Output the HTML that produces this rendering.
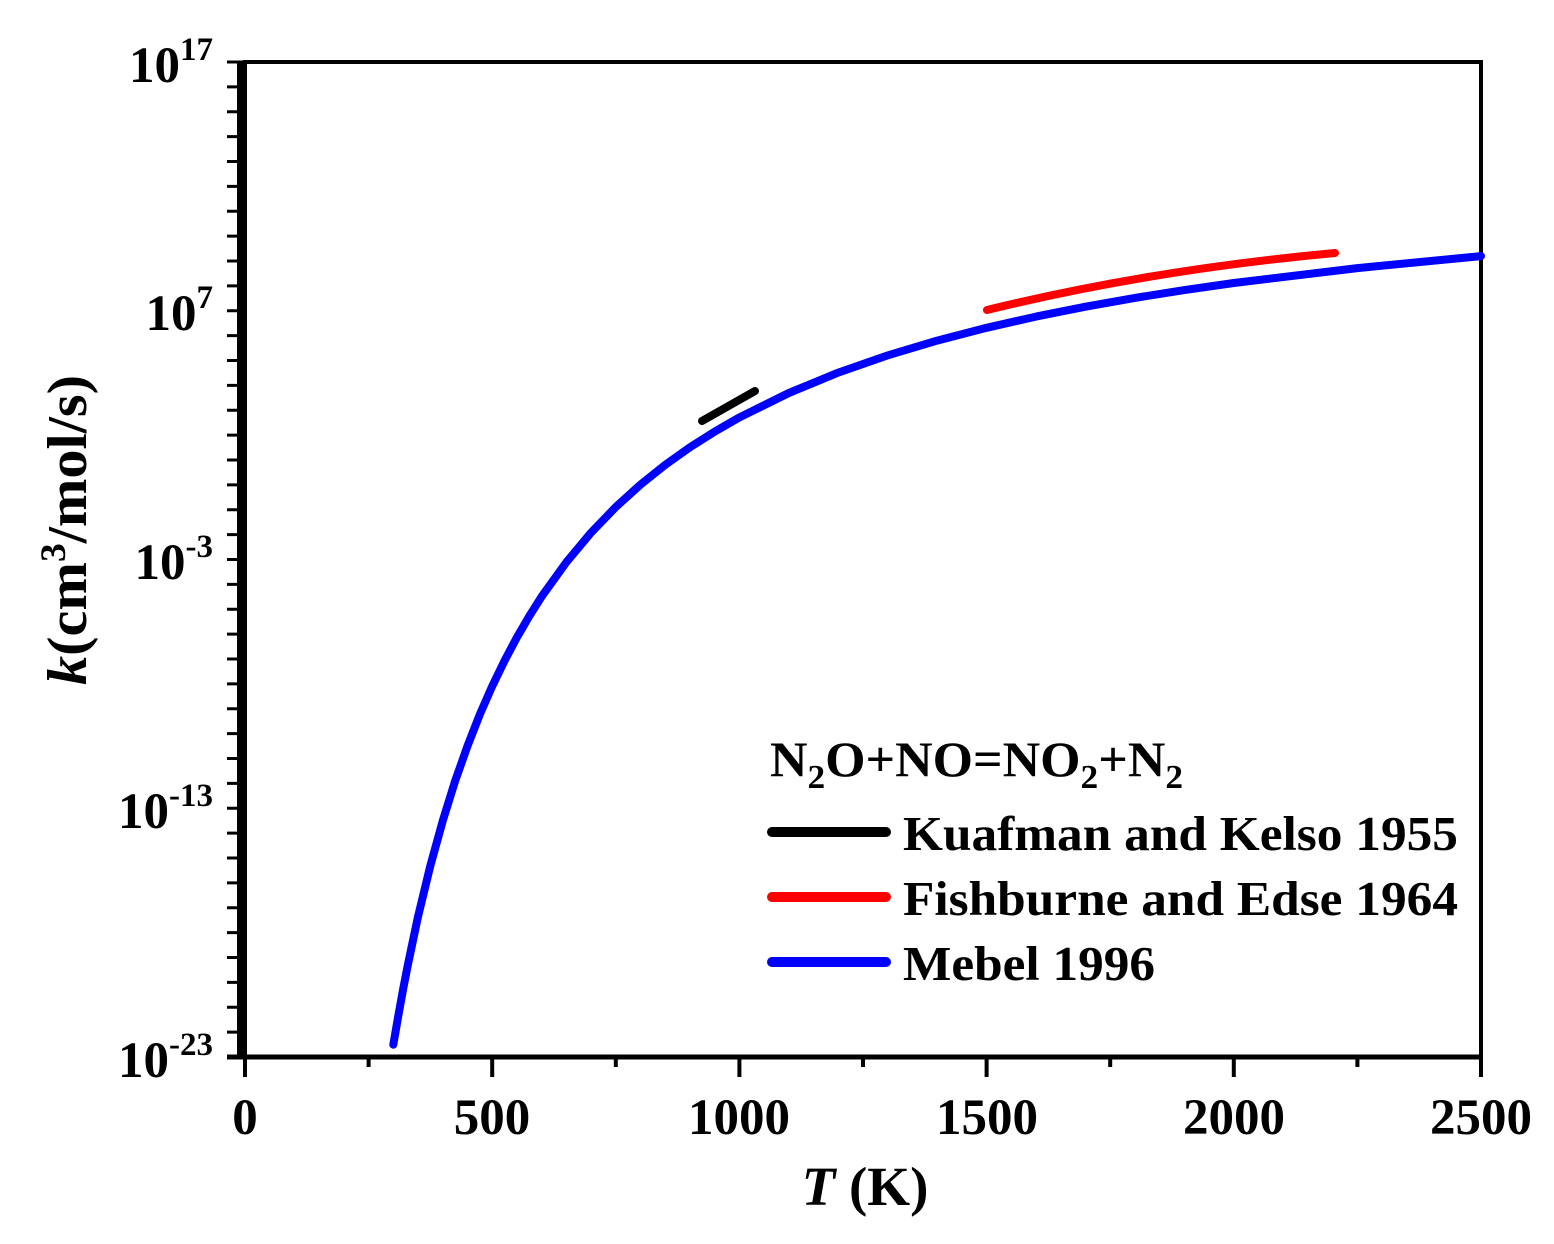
<!DOCTYPE html>
<html><head><meta charset="utf-8"><style>
html,body{margin:0;padding:0;background:#fff;}
svg{display:block;}
text{font-family:"Liberation Serif",serif;font-weight:bold;fill:#000;}
</style></head><body>
<svg width="1554" height="1244" viewBox="0 0 1554 1244" xmlns="http://www.w3.org/2000/svg">
<rect x="237" y="62" width="8" height="995" fill="#000"/>
<g stroke="#000" stroke-width="3">
<line x1="227" y1="62" x2="245" y2="62"/>
<line x1="227" y1="86.9" x2="245" y2="86.9"/><line x1="227" y1="111.8" x2="245" y2="111.8"/><line x1="227" y1="136.6" x2="245" y2="136.6"/><line x1="227" y1="161.5" x2="245" y2="161.5"/><line x1="227" y1="186.4" x2="245" y2="186.4"/><line x1="227" y1="211.3" x2="245" y2="211.3"/><line x1="227" y1="236.1" x2="245" y2="236.1"/><line x1="227" y1="261" x2="245" y2="261"/><line x1="227" y1="285.9" x2="245" y2="285.9"/><line x1="227" y1="310.8" x2="245" y2="310.8"/>
<line x1="227" y1="335.6" x2="245" y2="335.6"/><line x1="227" y1="360.5" x2="245" y2="360.5"/><line x1="227" y1="385.4" x2="245" y2="385.4"/><line x1="227" y1="410.3" x2="245" y2="410.3"/><line x1="227" y1="435.1" x2="245" y2="435.1"/><line x1="227" y1="460" x2="245" y2="460"/><line x1="227" y1="484.9" x2="245" y2="484.9"/><line x1="227" y1="509.8" x2="245" y2="509.8"/><line x1="227" y1="534.6" x2="245" y2="534.6"/><line x1="227" y1="559.5" x2="245" y2="559.5"/>
<line x1="227" y1="584.4" x2="245" y2="584.4"/><line x1="227" y1="609.3" x2="245" y2="609.3"/><line x1="227" y1="634.1" x2="245" y2="634.1"/><line x1="227" y1="659" x2="245" y2="659"/><line x1="227" y1="683.9" x2="245" y2="683.9"/><line x1="227" y1="708.8" x2="245" y2="708.8"/><line x1="227" y1="733.6" x2="245" y2="733.6"/><line x1="227" y1="758.5" x2="245" y2="758.5"/><line x1="227" y1="783.4" x2="245" y2="783.4"/><line x1="227" y1="808.3" x2="245" y2="808.3"/>
<line x1="227" y1="833.1" x2="245" y2="833.1"/><line x1="227" y1="858" x2="245" y2="858"/><line x1="227" y1="882.9" x2="245" y2="882.9"/><line x1="227" y1="907.8" x2="245" y2="907.8"/><line x1="227" y1="932.6" x2="245" y2="932.6"/><line x1="227" y1="957.5" x2="245" y2="957.5"/><line x1="227" y1="982.4" x2="245" y2="982.4"/><line x1="227" y1="1007.3" x2="245" y2="1007.3"/><line x1="227" y1="1032.1" x2="245" y2="1032.1"/>
</g>
<rect x="245" y="62" width="1236" height="995" fill="none" stroke="#000" stroke-width="4"/>
<line x1="227" y1="1057" x2="1483" y2="1057" stroke="#000" stroke-width="5"/>
<g stroke="#000" stroke-width="4">
<line x1="245" y1="1057" x2="245" y2="1077"/><line x1="492.2" y1="1057" x2="492.2" y2="1077"/><line x1="739.4" y1="1057" x2="739.4" y2="1077"/><line x1="986.6" y1="1057" x2="986.6" y2="1077"/><line x1="1233.8" y1="1057" x2="1233.8" y2="1077"/><line x1="1481" y1="1057" x2="1481" y2="1077"/>
<line x1="368.6" y1="1057" x2="368.6" y2="1067"/><line x1="615.8" y1="1057" x2="615.8" y2="1067"/><line x1="863" y1="1057" x2="863" y2="1067"/><line x1="1110.2" y1="1057" x2="1110.2" y2="1067"/><line x1="1357.4" y1="1057" x2="1357.4" y2="1067"/>
</g>
<g font-size="51" text-anchor="middle">
<text x="245" y="1134">0</text><text x="492" y="1134">500</text><text x="739" y="1134">1000</text><text x="987" y="1134">1500</text><text x="1234" y="1134">2000</text><text x="1481" y="1134">2500</text>
</g>
<g font-size="51" text-anchor="end">
<text x="213" y="82">10<tspan font-size="33" dy="-22">17</tspan></text>
<text x="213" y="330">10<tspan font-size="33" dy="-22">7</tspan></text>
<text x="213" y="579">10<tspan font-size="33" dy="-22">-3</tspan></text>
<text x="213" y="828">10<tspan font-size="33" dy="-22">-13</tspan></text>
<text x="213" y="1077">10<tspan font-size="33" dy="-22">-23</tspan></text>
</g>
<text x="865" y="1205" font-size="55" text-anchor="middle"><tspan font-style="italic">T</tspan> (K)</text>
<text transform="translate(86,530) rotate(-90)" font-size="56" text-anchor="middle" textLength="310" lengthAdjust="spacingAndGlyphs"><tspan font-style="italic">k</tspan>(cm<tspan font-size="36" dy="-21">3</tspan><tspan dy="21">/mol/s)</tspan></text>
<polyline fill="none" stroke="#0000ff" stroke-width="8" stroke-linecap="round" stroke-linejoin="round"
points="393.3,1044.7 398.3,1015.8 403.2,988.7 408.2,963.2 418,916.7 430.4,865.5 442.8,820.7 455.1,781.1 467.5,746 479.8,714.5 492.2,686.2 504.6,660.6 516.9,637.4 529.3,616.1 541.6,596.6 566.4,562.2 591.1,532.6 615.8,507 640.5,484.6 665.2,464.9 690,447.3 714.7,431.6 739.4,417.4 788.8,393 838.3,372.6 887.7,355.4 937.2,340.6 986.6,327.8 1036,316.6 1085.5,306.7 1134.9,297.9 1184.4,290.1 1233.8,283 1357.4,268.1 1481,256.1"/>
<path d="M987,310 Q1150,270 1335,253" fill="none" stroke="#ff0000" stroke-width="8" stroke-linecap="round"/>
<line x1="702" y1="421" x2="755" y2="391" stroke="#000" stroke-width="8" stroke-linecap="round"/>
<text x="770" y="776" font-size="50" textLength="413" lengthAdjust="spacingAndGlyphs">N<tspan font-size="34" dy="12">2</tspan><tspan dy="-12">O+NO=NO</tspan><tspan font-size="34" dy="12">2</tspan><tspan dy="-12">+N</tspan><tspan font-size="34" dy="12">2</tspan></text>
<line x1="772" y1="832" x2="886" y2="832" stroke="#000" stroke-width="10" stroke-linecap="round"/>
<line x1="772" y1="897" x2="886" y2="897" stroke="#ff0000" stroke-width="10" stroke-linecap="round"/>
<line x1="772" y1="962" x2="886" y2="962" stroke="#0000ff" stroke-width="10" stroke-linecap="round"/>
<g font-size="49">
<text x="903" y="850" textLength="555" lengthAdjust="spacingAndGlyphs">Kuafman and Kelso 1955</text>
<text x="903" y="915" textLength="555" lengthAdjust="spacingAndGlyphs">Fishburne and Edse 1964</text>
<text x="903" y="980" textLength="252" lengthAdjust="spacingAndGlyphs">Mebel 1996</text>
</g>
</svg>
</body></html>
